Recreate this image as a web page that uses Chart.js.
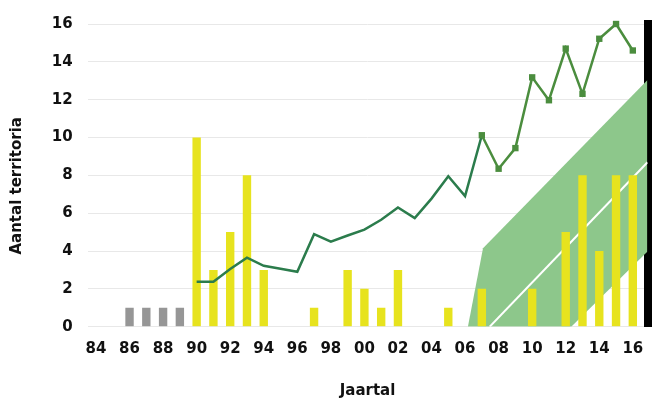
<!DOCTYPE html>
<html>
<head>
<meta charset="utf-8">
<script src="https://cdn.jsdelivr.net/npm/chart.js@4.4.1/dist/chart.umd.min.js"></script>
<style>
  html, body { margin: 0; padding: 0; background: #fff; }
  #wrap { width: 652px; height: 400px; }
</style>
</head>
<body>
<div id="wrap"><canvas id="chart"></canvas></div>
<script>
// Jaren met grijze (oude) waarnemingen
const grijsJaren = [1986, 1987, 1988, 1989];
const grijsWaarden = [1, 1, 1, 1];

// Gele staven: aantal territoria per jaar
const geelJaren = [1990, 1991, 1992, 1993, 1994, 1997, 1999, 2000, 2001, 2002, 2005, 2007, 2010, 2012, 2013, 2014, 2015, 2016];
const geelWaarden = [10, 3, 5, 8, 3, 1, 3, 2, 1, 3, 1, 2, 2, 5, 8, 4, 8, 8];

// Groene lijn (trend)
const lijnJaren = [1990, 1991, 1992, 1993, 1994, 1995, 1996, 1997, 1998, 1999, 2000, 2001, 2002, 2003,
  2004, 2005, 2006, 2007, 2008, 2009, 2010, 2011, 2012, 2013, 2014, 2015, 2016];
const lijnWaarden = [2.38, 2.38, 3.05, 3.65, 3.22, 3.06, 2.9, 4.89, 4.49, 4.82, 5.13, 5.65, 6.3, 5.74,
  6.77, 7.95, 6.9, 10.12, 8.35, 9.44, 13.18, 11.97, 14.7, 12.31, 15.22, 16.0, 14.6];

// Groene band (boven- en onderrand) en witte lijn
const bandBovenX = [2006.17, 2007.07, 2016.875];
const bandBovenY = [0, 4.15, 13.04];
const bandOnderX = [2006.17, 2012.33, 2016.875];
const bandOnderY = [0, 0, 3.98];
const witX = [2007.47, 2016.875];
const witY = [0, 8.69];

const yTicks = [0, 2, 4, 6, 8, 10, 12, 14, 16];

const punten = (xs, ys) => xs.map((x, i) => ({x, y: ys[i]}));

const donker = '#2b7c4c';
const licht = '#4b8d3e';
const fontTick = { family: 'DejaVu Sans', size: 15, weight: 'bold' };

new Chart(document.getElementById('chart'), {
  data: {
    datasets: [
      {
        type: 'line',
        label: 'trend',
        data: punten(lijnJaren, lijnWaarden),
        borderWidth: 2.5,
        borderColor: donker,
        segment: {
          borderColor: ctx => ctx.p0.parsed.x >= 2007 ? licht : donker
        },
        pointStyle: 'rect',
        pointRadius: lijnJaren.map(j => j >= 2007 ? 4.5 : 0),
        pointBackgroundColor: licht,
        pointBorderWidth: 0,
        tension: 0,
        clip: false,
        order: 1
      },
      {
        type: 'bar',
        label: 'geel',
        data: punten(geelJaren, geelWaarden),
        backgroundColor: '#e7e31e',
        grouped: false,
        barPercentage: 0.5,
        categoryPercentage: 1,
        order: 3
      },
      {
        type: 'bar',
        label: 'grijs',
        data: punten(grijsJaren, grijsWaarden),
        backgroundColor: '#969696',
        grouped: false,
        barPercentage: 0.5,
        categoryPercentage: 1,
        order: 3
      },
      {
        type: 'line',
        label: 'wit',
        data: punten(witX, witY),
        borderColor: '#ffffff',
        borderWidth: 2,
        pointRadius: 0,
        order: 6
      },
      {
        type: 'line',
        label: 'band',
        data: punten(bandBovenX, bandBovenY),
        borderWidth: 0,
        pointRadius: 0,
        backgroundColor: '#8dc78b',
        fill: '+1',
        order: 8
      },
      {
        type: 'line',
        label: 'bandOnder',
        data: punten(bandOnderX, bandOnderY),
        borderWidth: 0,
        pointRadius: 0,
        fill: false,
        order: 9
      }
    ]
  },
  options: {
    responsive: true,
    maintainAspectRatio: false,
    animation: false,
    layout: { padding: { top: 18, right: 0, left: 0, bottom: 0 } },
    plugins: {
      legend: { display: false },
      tooltip: { enabled: false }
    },
    scales: {
      x: {
        type: 'linear',
        offset: false,
        min: 1983.5,
        max: 2016.875,
        grid: { display: false, offset: false },
        border: { display: false },
        ticks: {
          stepSize: 2,
          includeBounds: false,
          autoSkip: false,
          maxRotation: 0,
          padding: 5,
          color: '#111',
          font: fontTick,
          callback: v => String(v % 100).padStart(2, '0')
        },
        title: {
          display: true,
          text: 'Jaartal',
          color: '#111',
          font: { family: 'DejaVu Sans', size: 15, weight: 'bold' },
          padding: { top: 0, bottom: 0 }
        },
        afterFit: s => { s.height = 73.3; }
      },
      y: {
        position: 'left',
        min: 0,
        max: 16,
        afterBuildTicks: s => { s.ticks = yTicks.map(v => ({value: v})); },
        grid: { color: '#e8e8e8', lineWidth: 1, drawTicks: false },
        border: { display: false },
        ticks: { padding: 15, color: '#111', font: fontTick },
        title: {
          display: true,
          text: 'Aantal territoria    ',
          color: '#111',
          font: { family: 'DejaVu Sans', size: 15, weight: 'bold' },
          padding: { top: 8, bottom: 0 }
        },
        afterFit: s => { s.width = 87.6; }
      },
      yR: {
        position: 'right',
        min: 0,
        max: 16,
        grid: { display: false },
        ticks: { display: false },
        border: { display: true, color: '#000', width: 8 },
        afterFit: s => { s.width = 4; }
      }
    }
  }
});
</script>
</body>
</html>
